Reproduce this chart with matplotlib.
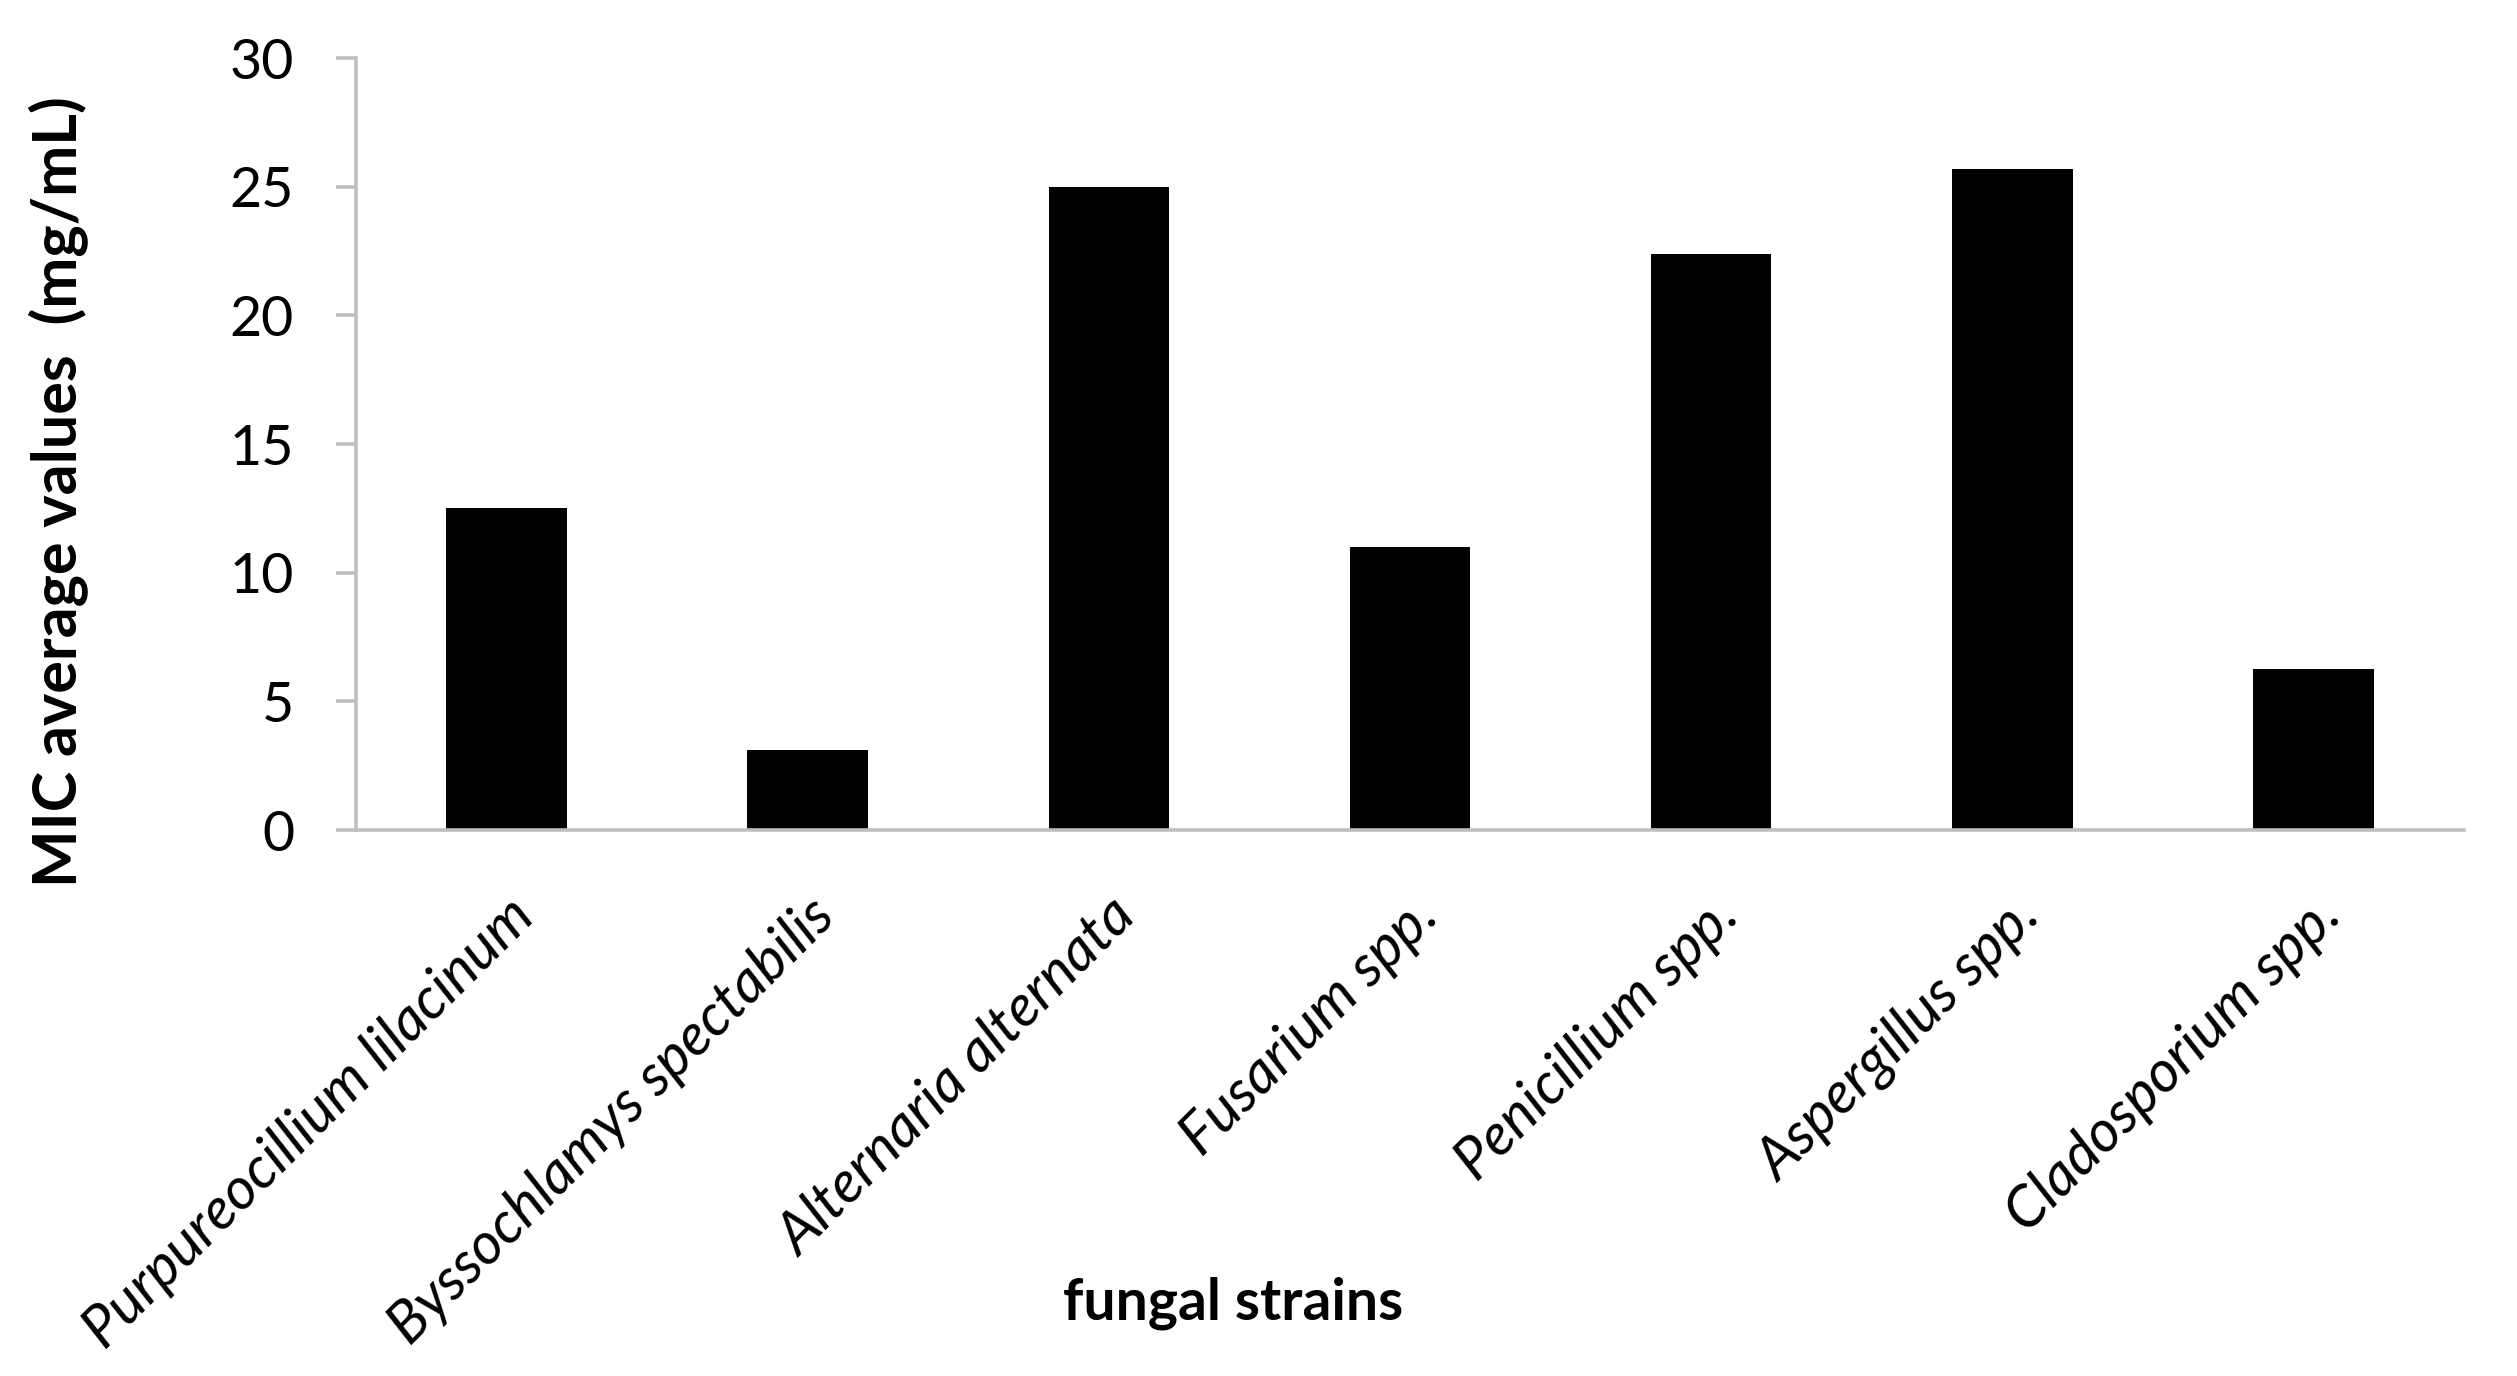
import matplotlib
matplotlib.use('Agg')
import matplotlib.pyplot as plt
from matplotlib import font_manager

strains = ['Purpureocillium lilacinum', 'Byssochlamys spectabilis', 'Alternaria alternata',
           'Fusarium spp.', 'Penicillium spp.', 'Aspergillus spp.', 'Cladosporium spp.']
mic_values = [12.5, 3.125, 25.0, 11.0, 22.4, 25.7, 6.25]
y_ticks = [0, 5, 10, 15, 20, 25, 30]

names = {f.name for f in font_manager.fontManager.ttflist}
base_font = 'Lato' if 'Lato' in names else 'DejaVu Sans'

plt.rcParams['font.family'] = [base_font, 'DejaVu Sans']

fig = plt.figure(figsize=(25.17, 13.76), dpi=100)
ax = fig.add_axes([0.1414, 0.3968, 0.8376, 0.561])

x = range(len(strains))
ax.bar(x, mic_values, width=0.4, color='black')

ax.set_xlim(-0.5, len(strains) - 0.5)
ax.set_ylim(0, 30)
ax.set_yticks(y_ticks)
ax.set_yticklabels([str(t) for t in y_ticks], fontsize=40)
ax.set_xticks(list(x))
ax.set_xticklabels(strains, rotation=45, ha='right', rotation_mode='anchor',
                   fontsize=42, style='italic')

for side in ['top', 'right']:
    ax.spines[side].set_visible(False)
for side in ['left', 'bottom']:
    ax.spines[side].set_color('#bfbfbf')
    ax.spines[side].set_linewidth(2.6)

ax.tick_params(axis='y', direction='out', length=14.5, width=2.6, color='#bfbfbf', pad=30)
ax.tick_params(axis='x', length=0, pad=42)

ax.set_ylabel('MIC average values  (mg/mL)', fontsize=44, fontweight='bold', va='center')
ax.yaxis.set_label_coords(-0.141, 0.438)
ax.set_xlabel('fungal strains', fontsize=41, fontweight='bold', va='center')
ax.xaxis.set_label_coords(0.416, -0.613)

fig.savefig('out.png', dpi=100, facecolor='white')
